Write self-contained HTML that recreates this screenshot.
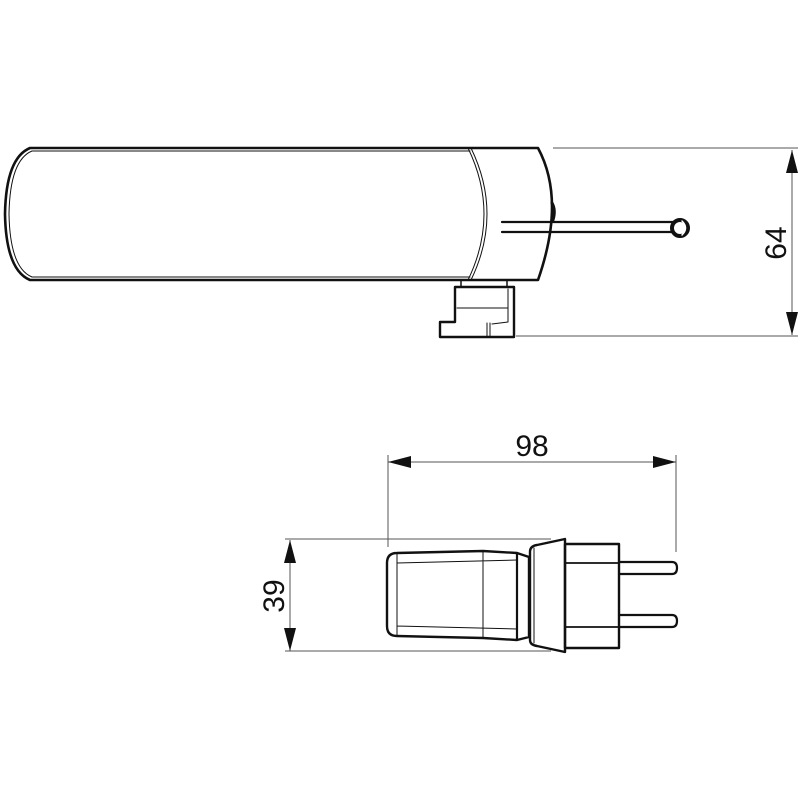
<!DOCTYPE html>
<html><head><style>html,body{margin:0;padding:0;background:#fff}svg{display:block}</style></head>
<body>
<svg width="800" height="800" viewBox="0 0 800 800" xmlns="http://www.w3.org/2000/svg">
<g fill="none" stroke="#111" stroke-linecap="round" stroke-linejoin="round">
<!-- tube -->
<path d="M30,148 L538,148 Q566,200 538,280 L30,280 Q6,270 5,214 Q6,158 30,148 Z" stroke-width="2.6"/>
<path d="M32,151 Q10,160 9,214 Q10,268 32,277" stroke-width="1"/>
<path d="M32,151 L470,151" stroke-width="1"/>
<path d="M32,277 L470,277" stroke-width="1"/>
<path d="M468,148 Q500,214 468,280" stroke-width="1"/>
<path d="M471,148 Q503,214 471,280" stroke-width="1"/>
<path d="M552,203 Q556,210 553,220" stroke-width="3"/>
<!-- cable -->
<path d="M502,222 L673,222 M502,232 L673,232" stroke-width="2.2"/>
<circle cx="680" cy="228" r="8" stroke-width="4"/>
<path d="M682,221 Q689,228 682,235" stroke-width="1.5" stroke="#fff"/>
<!-- clip -->
<path d="M461,281 L461,287 M507,281 L507,287" stroke-width="1.5"/>
<path d="M455,287 L514,287 L514,337 L440,337 L440,322 L455,322 Z" stroke-width="2.4"/>
<path d="M457,308 L508,308 M508,289 L508,322 L492,324 M487,323 L487,336 M490,323 L490,336" stroke-width="1"/>
<!-- plug -->
<path d="M397,553 L483,551 L517,553 L529,557 L529,637 L517,640 L483,638 L397,636 Q387,636 387,626 L387,563 Q387,553 397,553 Z" stroke-width="2.4"/>
<path d="M397,563 L517,560 M397,626 L517,629 M397,553 L397,636 M483,551 L483,638" stroke-width="1"/>
<path d="M517,553 L517,640" stroke-width="2.2"/>
<path d="M537,545 L565,539 L565,652 L537,646 Q530,645 530,640 L530,552 Q530,546 537,545 Z" stroke-width="2.4"/>
<path d="M534,548 L534,643" stroke-width="1"/>
<path d="M565,544 L619,544 L619,648 L565,648 Z" stroke-width="2.4"/>
<path d="M565,563 L619,563 M565,627 L619,627" stroke-width="1.8"/>
<path d="M619,562 L672,562 Q677,562 677,568 Q677,574 672,574 L619,574" stroke-width="2.2"/>
<path d="M619,615 L672,615 Q677,615 677,621 Q677,627 672,627 L619,627" stroke-width="2.2"/>
</g>
<!-- dimensions -->
<g stroke="#555" stroke-width="1" fill="none">
<path d="M553,148 L798,148 M516,336 L798,336 M792,150 L792,335"/>
<path d="M388,455 L388,547 M676,455 L676,552 M388,462 L676,462"/>
<path d="M285,539 L551,539 M285,651 L551,651 M290,540 L290,651"/>
</g>
<g fill="#111">
<polygon points="792,150 786,173 798,173"/>
<polygon points="792,335 786,312 798,312"/>
<polygon points="388,462 411,456 411,468"/>
<polygon points="676,462 653,456 653,468"/>
<polygon points="290,540 284,563 296,563"/>
<polygon points="290,651 284,628 296,628"/>
</g>
<g font-family="Liberation Sans, sans-serif" font-size="30" fill="#111" text-anchor="middle">
<text x="532" y="456">98</text>
<text transform="translate(786,243) rotate(-90)">64</text>
<text transform="translate(284,596) rotate(-90)">39</text>
</g>
</svg>
</body></html>
